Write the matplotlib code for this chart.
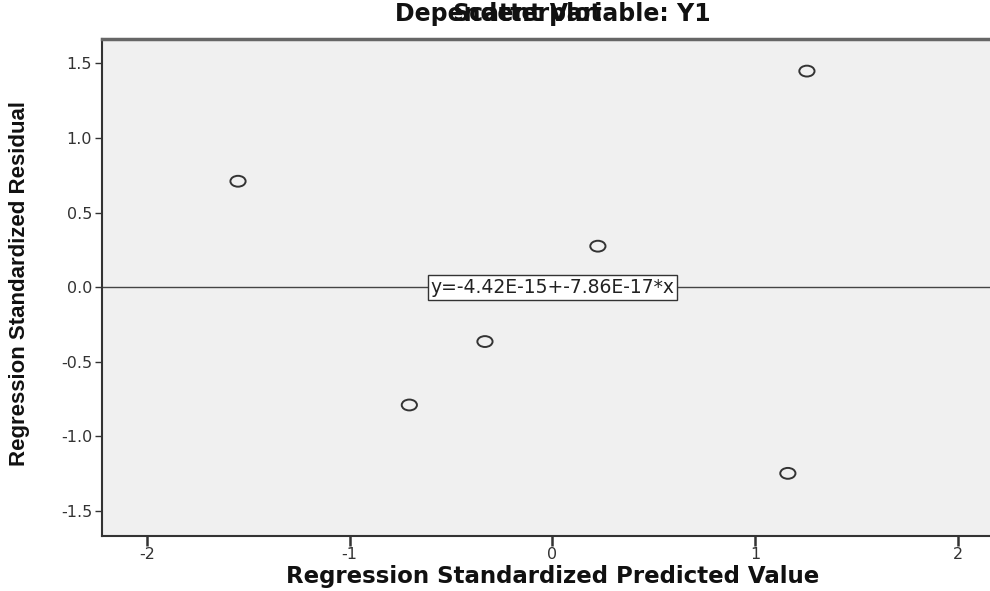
import matplotlib
matplotlib.use("Agg")
import matplotlib.pyplot as plt
from matplotlib.path import Path
from matplotlib.markers import MarkerStyle
import matplotlib.transforms as mtransforms

# Data
pred = [-1.551, 1.255, 0.224, -0.333, -0.706, 1.161]
resid = [0.710, 1.448, 0.275, -0.364, -0.789, -1.247]
xticks = [-2, -1, 0, 1, 2]
yticks = [-1.5, -1.0, -0.5, 0.0, 0.5, 1.0, 1.5]
ytick_labels = ["-1.5", "-1.0", "-0.5", "0.0", "0.5", "1.0", "1.5"]
fit_label = "y=-4.42E-15+-7.86E-17*x"
title_main = "Scatterplot"
title_sub = "Dependent Variable: Y1"
xlabel = "Regression Standardized Predicted Value"
ylabel = "Regression Standardized Residual"

fig = plt.figure(figsize=(9.9, 5.91), dpi=100)
fig.patch.set_facecolor("white")
ax = fig.add_axes([0.103, 0.093, 0.897, 0.841])
ax.set_facecolor("#f0f0f0")
ax.set_xlim(-2.222, 2.158)
ax.set_ylim(-1.667, 1.663)

# elliptical open marker (reference is horizontally stretched)
circ = Path.unit_circle()
ell = circ.transformed(mtransforms.Affine2D().scale(1.4, 1.0))
mk = MarkerStyle(ell)
ax.scatter(pred, resid, marker=mk, s=120, facecolors="none",
           edgecolors="#333333", linewidths=1.4, zorder=3)

# fit line at zero
ax.axhline(0, color="#444444", lw=1.0, zorder=2)
ax.text(0, 0, fit_label, ha="center", va="center", fontsize=13.5,
        family="DejaVu Sans", color="#222222", zorder=4,
        bbox=dict(boxstyle="square,pad=0.15", fc="white", ec="#333333", lw=1.0))

ax.set_xticks(xticks)
ax.set_xticklabels([str(t) for t in xticks])
ax.set_yticks(yticks)
ax.set_yticklabels(ytick_labels)
ax.tick_params(axis="x", direction="out", length=7, width=1.8, color="#333333",
               labelsize=11.5, labelcolor="#333333", pad=1)
ax.tick_params(axis="y", direction="out", length=5, width=1.0, color="#333333",
               labelsize=11.5, labelcolor="#333333", pad=2)
for lab in ax.get_xticklabels() + ax.get_yticklabels():
    lab.set_family("DejaVu Sans")

for s in ["left", "bottom"]:
    ax.spines[s].set_color("#333333")
    ax.spines[s].set_linewidth(1.5)
ax.spines["right"].set_visible(False)
ax.spines["top"].set_color("#666666")
ax.spines["top"].set_linewidth(2.5)

fig.text(553 / 990, 1 - 576 / 591, xlabel, ha="center", va="center",
         fontsize=16.5, fontweight="bold", family="DejaVu Sans", color="#111111")
fig.text(20 / 990, 1 - 283 / 591, ylabel, rotation=90, ha="center", va="center",
         fontsize=16, fontweight="bold", family=["Liberation Sans Narrow", "Liberation Sans"],
         color="#111111")
fig.text(553 / 990, 1 - 14 / 591, title_sub, ha="center", va="center",
         fontsize=17, fontweight="bold", family="DejaVu Sans", color="#111111")
fig.text(527 / 990, 1 - 14 / 591, title_main, ha="center", va="center",
         fontsize=17, fontweight="bold", family="DejaVu Sans", color="#111111")

fig.savefig("out.png", dpi=100)
